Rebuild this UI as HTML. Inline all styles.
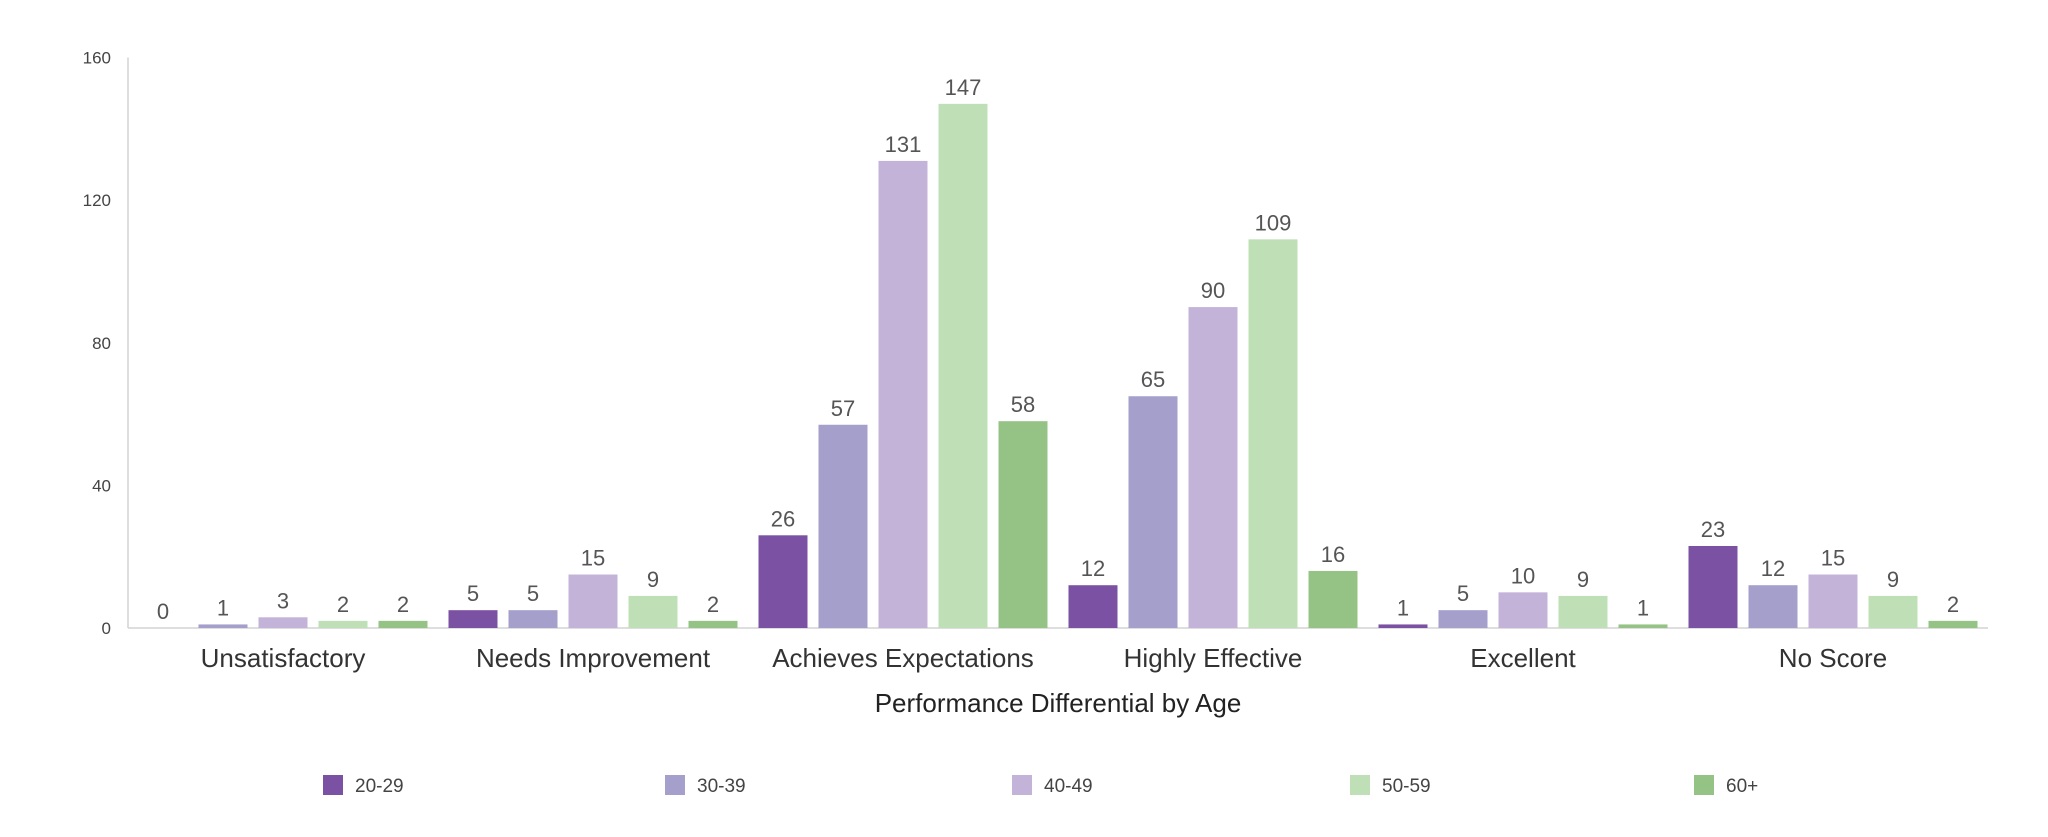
<!DOCTYPE html>
<html><head><meta charset="utf-8"><style>
html,body{margin:0;padding:0;background:#fff;}
svg{display:block;font-family:"Liberation Sans",sans-serif;}
</style></head><body>
<svg id="chart" width="2048" height="837">
<g id="axes"></g><g id="bars"></g><g id="legend"></g>
</svg>
<script>
const categories=["Unsatisfactory","Needs Improvement","Achieves Expectations","Highly Effective","Excellent","No Score"];
const seriesNames=["20-29","30-39","40-49","50-59","60+"];
const s2029=[0,5,26,12,1,23];
const s3039=[1,5,57,65,5,12];
const s4049=[3,15,131,90,10,15];
const s5059=[2,9,147,109,9,9];
const s60=[2,2,58,16,1,2];
const yTicks=[0,40,80,120,160];
const series=[s2029,s3039,s4049,s5059,s60];
const colors=["#7b52a3","#a59fcb","#c3b3d8","#bfe0b6","#95c386"];
const NS="http://www.w3.org/2000/svg";
const x0=128,x1=1988,yBase=628,yTop=57.5,yMax=160;
const y=v=>yBase-(v/yMax)*(yBase-yTop);
const groupW=(x1-x0)/categories.length;
const gc=i=>x0+groupW*(i+0.5);
const barStep=60,barW=49;
function mk(tag,attrs,parent,text){const e=document.createElementNS(NS,tag);for(const k in attrs)e.setAttribute(k,attrs[k]);if(text!==undefined)e.textContent=text;parent.appendChild(e);return e;}
const axes=document.getElementById('axes'),bars=document.getElementById('bars'),legend=document.getElementById('legend');
let e=mk('line',{x1:x0,y1:yTop,x2:x0,y2:yBase,stroke:'#d4d4d4','stroke-width':1.5},axes);


e=mk('line',{x1:x0,y1:yBase,x2:x1,y2:yBase,stroke:'#d4d4d4','stroke-width':1.5},axes);


yTicks.forEach(t=>{
  const el=mk('text',{x:111,y:y(t)+6,'text-anchor':'end','font-size':17,fill:'#444'},axes,String(t));
  
  
});
categories.forEach((c,i)=>{
  const el=mk('text',{x:gc(i),y:667,'text-anchor':'middle','font-size':26,fill:'#333'},axes,c);
  
  
  series.forEach((s,j)=>{
    const cx=gc(i)+(j-2)*barStep, v=s[i];
    const r=mk('rect',{x:cx-barW/2,y:y(v),width:barW,height:yBase-y(v),fill:colors[j]},bars);
    
    
    const t=mk('text',{x:cx,y:y(v)-9,'text-anchor':'middle','font-size':22,fill:'#555'},bars,String(v));
    
    
  });
});
e=mk('text',{x:1058,y:712,'text-anchor':'middle','font-size':26,fill:'#222'},axes,'Performance Differential by Age');


const legX=[323,665,1012,1350,1694];
seriesNames.forEach((n,j)=>{
  const g=mk('g',{},legend);
  
  
  mk('rect',{x:legX[j],y:775,width:20,height:20,fill:colors[j]},g);
  mk('text',{x:legX[j]+32,y:792,'font-size':19,fill:'#444'},g,n);
});
</script>
</body></html>
